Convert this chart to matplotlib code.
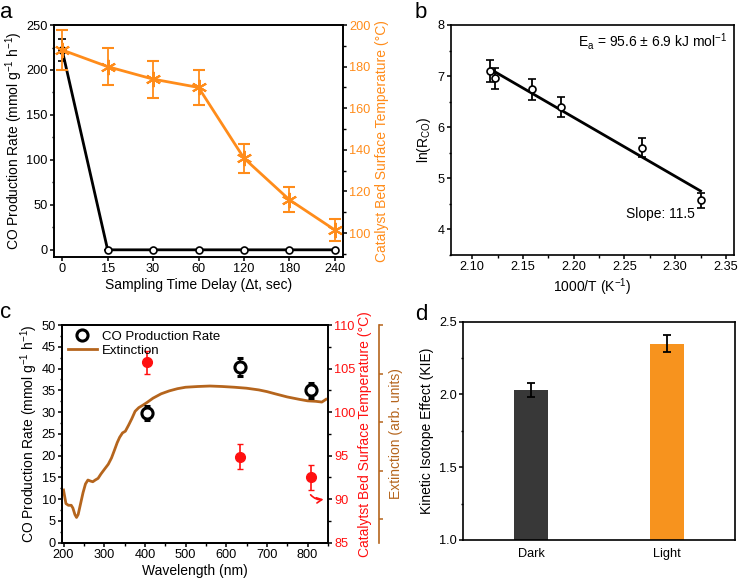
import numpy as np
import matplotlib.pyplot as plt
from matplotlib.lines import Line2D
from matplotlib.ticker import MultipleLocator

plt.rcParams['font.family'] = ['Liberation Sans', 'DejaVu Sans']
plt.rcParams['mathtext.fontset'] = 'custom'
plt.rcParams['mathtext.rm'] = 'Liberation Sans'
plt.rcParams['mathtext.it'] = 'Liberation Sans:italic'
plt.rcParams['font.size'] = 9.5
plt.rcParams['axes.linewidth'] = 1.2

ORANGE = '#FF8C1A'
BROWN = '#B5651D'
RED = '#FF1010'
TICK_FS = 9.2
LABEL_FS = 10

# panel a: time delay series
delay_labels = ['0', '15', '30', '60', '120', '180', '240']
co_rate_a = [222, 0, 0, 0, 0, 0, 0]
co_rate_a_err = [12, 0, 0, 0, 0, 0, 0]
temp_a = [188, 180, 174, 170, 136, 116, 101.5]
temp_a_err = [9.4, 9, 8.9, 8.6, 7, 6, 5.3]

# panel b: Arrhenius
inv_t = [2.1174, 2.1223, 2.159, 2.187, 2.267, 2.325]
ln_rco = [7.10, 6.955, 6.74, 6.40, 5.60, 4.57]
ln_rco_err = [0.22, 0.21, 0.2, 0.2, 0.19, 0.15]
fit_slope = -11.5
fit_intercept = 31.49

# panel c: wavelength dependence
laser_nm = [405, 635, 808]
co_rate_c = [29.8, 40.4, 35.0]
co_rate_c_err = [1.5, 2.0, 1.8]
temp_c = [105.7, 94.9, 92.5]
temp_c_err = [1.3, 1.4, 1.4]
ext_nm = [200, 206, 212, 219, 223, 228, 232, 236, 242, 248, 254, 260, 266, 272,
          278, 285, 292, 300, 310, 318, 325, 332, 338, 345, 352, 360, 368, 376,
          385, 395, 405, 420, 440, 460, 480, 500, 530, 560, 590, 620, 650, 680,
          700, 720, 750, 780, 800, 820, 835, 845]
ext_val = [0.321, 0.265, 0.258, 0.258, 0.247, 0.220, 0.208, 0.220, 0.265, 0.310,
           0.346, 0.362, 0.358, 0.355, 0.362, 0.369, 0.387, 0.405, 0.427, 0.453,
           0.484, 0.516, 0.538, 0.556, 0.563, 0.588, 0.615, 0.645, 0.660, 0.670,
           0.681, 0.699, 0.717, 0.729, 0.738, 0.744, 0.747, 0.749, 0.747, 0.744,
           0.740, 0.733, 0.726, 0.717, 0.704, 0.694, 0.688, 0.686, 0.683, 0.694]

# panel d: KIE
kie_labels = ['Dark', 'Light']
kie_vals = [2.03, 2.35]
kie_err = [0.05, 0.06]
kie_colors = ['#383838', '#F7931E']


def style_ticks(ax, **kw):
    ax.tick_params(which='major', direction='out', length=3, width=1.1,
                   pad=1.5, labelsize=TICK_FS, **kw)
    ax.tick_params(which='minor', direction='out', length=1.8, width=1.0, **kw)


fig = plt.figure(figsize=(7.38, 5.82), dpi=100)

# ---------------- a ----------------
ax = fig.add_axes([0.0732, 0.5584, 0.3916, 0.3986])
xa = np.arange(len(delay_labels))
ax.errorbar(xa, co_rate_a, yerr=co_rate_a_err, color='black', lw=2, marker='o',
            ms=5, mfc='white', mec='black', mew=1.2, capsize=3, elinewidth=1.2,
            zorder=3)
ax.set_xlim(-0.18, 6.18)
ax.set_ylim(-8, 250)
ax.set_xticks(xa)
ax.set_xticklabels(delay_labels)
ax.yaxis.set_major_locator(MultipleLocator(50))
ax.yaxis.set_minor_locator(MultipleLocator(25))
style_ticks(ax)
ax.set_xlabel('Sampling Time Delay (\u0394t, sec)', fontsize=LABEL_FS, labelpad=2)
ax.set_ylabel('CO Production Rate (mmol g$^{-1}$ h$^{-1}$)', fontsize=LABEL_FS,
              labelpad=1)

ax2 = ax.twinx()
ax2.errorbar(xa, temp_a, yerr=temp_a_err, color=ORANGE, lw=2, marker=(6, 2, 0),
             ms=11, mew=1.5, capsize=4, elinewidth=1.3)
ax2.set_ylim(88.5, 200)
ax2.yaxis.set_major_locator(MultipleLocator(20))
ax2.yaxis.set_minor_locator(MultipleLocator(10))
style_ticks(ax2)
ax2.tick_params(axis='y', which='both', labelcolor=ORANGE)
ax2.set_ylabel('Catalyst Bed Surface Temperature (\u00b0C)', color=ORANGE,
               fontsize=LABEL_FS, labelpad=3)

# ---------------- b ----------------
ax = fig.add_axes([0.6111, 0.5619, 0.3835, 0.3952])
ax.errorbar(inv_t, ln_rco, yerr=ln_rco_err, fmt='o', color='black', ms=5,
            mfc='white', mec='black', mew=1.2, capsize=3, elinewidth=1.3, zorder=3)
xf = np.array([inv_t[0], inv_t[-1]])
ax.plot(xf, fit_intercept + fit_slope * xf, color='black', lw=2)
ax.set_xlim(2.079, 2.358)
ax.set_ylim(3.5, 8)
ax.xaxis.set_major_locator(MultipleLocator(0.05))
ax.xaxis.set_minor_locator(MultipleLocator(0.025))
ax.yaxis.set_major_locator(MultipleLocator(1))
ax.yaxis.set_minor_locator(MultipleLocator(0.5))
ax.xaxis.set_major_formatter(plt.FormatStrFormatter('%.2f'))
style_ticks(ax)
ax.set_xlabel('1000/T (K$^{-1}$)', fontsize=LABEL_FS, labelpad=2)
ax.set_ylabel('ln(R$_{\\mathrm{CO}}$)', fontsize=LABEL_FS, labelpad=3)
ax.text(0.975, 0.93, 'E$_\\mathrm{a}$ = 95.6 \u00b1 6.9 kJ mol$^{-1}$',
        transform=ax.transAxes, ha='right', va='center', fontsize=10)
ax.text(0.86, 0.18, 'Slope: 11.5', transform=ax.transAxes, ha='right',
        va='center', fontsize=10)

# ---------------- c ----------------
ax = fig.add_axes([0.0844, 0.0675, 0.36, 0.374])
ax.errorbar(laser_nm, co_rate_c, yerr=co_rate_c_err, fmt='o', color='black',
            ms=8, mfc='white', mec='black', mew=2.2, capsize=2.5,
            elinewidth=1.2, zorder=4)
ax.set_xlim(197, 850)
ax.set_ylim(0, 50)
ax.xaxis.set_major_locator(MultipleLocator(100))
ax.xaxis.set_minor_locator(MultipleLocator(50))
ax.yaxis.set_major_locator(MultipleLocator(5))
ax.yaxis.set_minor_locator(MultipleLocator(2.5))
style_ticks(ax)
ax.set_xlabel('Wavelength (nm)', fontsize=LABEL_FS, labelpad=2)
ax.set_ylabel('CO Production Rate (mmol g$^{-1}$ h$^{-1}$)', fontsize=LABEL_FS,
              labelpad=1)

axr = ax.twinx()
axr.errorbar(laser_nm, temp_c, yerr=temp_c_err, fmt='o', color=RED, ms=7,
             capsize=2.5, elinewidth=1.2, zorder=3)
axr.set_ylim(85, 110)
axr.yaxis.set_major_locator(MultipleLocator(5))
axr.yaxis.set_minor_locator(MultipleLocator(2.5))
style_ticks(axr)
axr.tick_params(axis='y', which='both', labelcolor=RED)
axr.set_ylabel('Catalytst Bed Surface Temperature (\u00b0C)', color=RED,
               fontsize=LABEL_FS, labelpad=2)
axr.annotate('', xy=(846, 90.05), xytext=(803, 90.75),
             arrowprops=dict(arrowstyle='->', color=RED, lw=1.2,
                             connectionstyle='arc3,rad=0.35'))

axe = ax.twinx()
axe.spines['right'].set_position(('outward', 37))
axe.spines['right'].set_color(BROWN)
ext_line, = axe.plot(ext_nm, ext_val, color=BROWN, lw=2)
axe.set_ylim(0.104, 1.0)
axe.yaxis.set_major_locator(MultipleLocator(0.2))
axe.tick_params(axis='y', direction='out', length=3, width=1.1, color=BROWN,
                labelright=False)
axe.set_ylabel('Extinction (arb. units)', color=BROWN, fontsize=LABEL_FS,
               labelpad=4)
axe.set_zorder(ax.get_zorder() - 1)
axr.set_zorder(ax.get_zorder() - 2)
ax.patch.set_visible(False)
axr.patch.set_visible(False)

co_proxy = Line2D([], [], ls='none', marker='o', ms=8, mfc='white', mec='black',
                  mew=2.2)
ax.legend([co_proxy, ext_line], ['CO Production Rate', 'Extinction'],
          loc='upper left', frameon=False, fontsize=TICK_FS + 0.3,
          handlelength=2.2, handletextpad=0.4, borderaxespad=0.2,
          labelspacing=0.15, borderpad=0.2)

# ---------------- d ----------------
ax = fig.add_axes([0.6278, 0.0722, 0.3681, 0.3751])
xd = np.arange(len(kie_labels))
ax.bar(xd, kie_vals, width=0.25, color=kie_colors)
ax.errorbar(xd, kie_vals, yerr=kie_err, fmt='none', ecolor='black', capsize=3,
            elinewidth=1.3, capthick=1.3)
ax.set_xlim(-0.5, 1.5)
ax.set_ylim(1.0, 2.5)
ax.set_xticks(xd)
ax.set_xticklabels(kie_labels)
ax.yaxis.set_major_locator(MultipleLocator(0.5))
ax.yaxis.set_minor_locator(MultipleLocator(0.25))
style_ticks(ax)
ax.tick_params(axis='x', length=0, pad=6)
ax.set_ylabel('Kinetic Isotope Effect (KIE)', fontsize=LABEL_FS, labelpad=4)

# panel letters
for lbl, x, y in [('a', 0.0, 0.969), ('b', 0.562, 0.969), ('c', 0.0, 0.4536),
                  ('d', 0.562, 0.45)]:
    fig.text(x, y, lbl, fontsize=16, ha='left', va='baseline')

fig.savefig('out.png', dpi=100)
